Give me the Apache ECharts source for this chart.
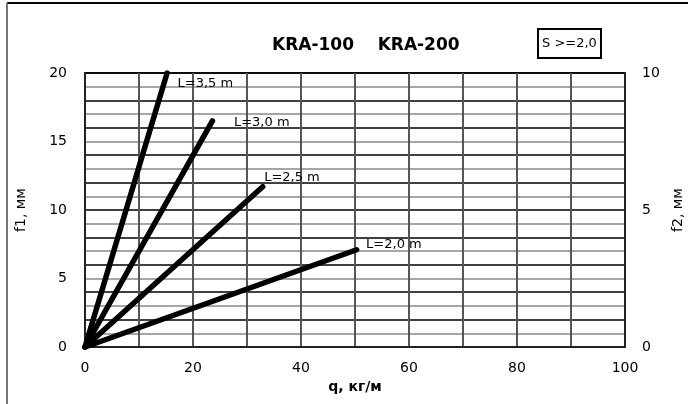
<!DOCTYPE html>
<html>
<head>
<meta charset="utf-8">
<script src="https://cdn.jsdelivr.net/npm/echarts@6/dist/echarts.min.js"></script>
<style>
html,body{margin:0;padding:0;background:#fff;}
#chart{width:688px;height:404px;}
</style>
</head>
<body>
<div id="chart"></div>
<script>
// Data
const seriesNames = ['L=3,5 m', 'L=3,0 m', 'L=2,5 m', 'L=2,0 m'];
const qStart = [0, 0, 0, 0];
const f1Start = [0, 0, 0, 0];
const qEnd = [15.2, 23.6, 32.9, 50.3];
const f1End = [20, 16.5, 11.7, 7.1];
const xTickLabels = [0, 20, 40, 60, 80, 100];
const yLeftTickLabels = [0, 5, 10, 15, 20];
const yRightTickLabels = [0, 5, 10];
const titleText = 'KRA-100    KRA-200';
const boxText = 'S >=2,0';

const FONT = 'DejaVu Sans';
const labelOffsets = [[5, 11], [16, 2], [-4, -9], [4, -5]];

const chart = echarts.init(document.getElementById('chart'), null, {renderer: 'canvas'});

const series = seriesNames.map((name, i) => ({
  name: name,
  type: 'line',
  yAxisIndex: 0,
  symbol: 'circle',
  symbolSize: 1,
  showSymbol: true,
  itemStyle: {color: '#000'},
  lineStyle: {color: '#000', width: 5.5, cap: 'round'},
  silent: true,
  data: [
    {value: [qStart[i], f1Start[i]]},
    {value: [qEnd[i], f1End[i]],
     label: {show: true, position: 'right', formatter: name, offset: labelOffsets[i],
             color: '#000', fontFamily: FONT, fontSize: 13}}
  ]
}));

const option = {
  animation: false,
  backgroundColor: '#fff',
  title: [
    {text: titleText, left: 267, top: 32,
     textStyle: {fontFamily: FONT, fontWeight: 'bold', fontSize: 17, color: '#000'}},
    {text: boxText, left: 538, top: 29, padding: [8, 4, 8, 4],
     borderColor: '#000', borderWidth: 2,
     textStyle: {fontFamily: FONT, fontWeight: 'normal', fontSize: 13, color: '#000'}}
  ],
  grid: {left: 85, right: 63, top: 73, bottom: 57, show: true, outerBoundsMode: 'none',
         containLabel: false,
         borderColor: '#333', borderWidth: 2, backgroundColor: 'transparent'},
  xAxis: {
    type: 'value', min: 0, max: 100, interval: 10,
    name: 'q, кг/м', nameLocation: 'middle', nameGap: 33,
    nameTextStyle: {fontFamily: FONT, fontWeight: 'bold', fontSize: 14, color: '#000'},
    axisLine: {show: true, lineStyle: {color: '#222', width: 2}},
    axisTick: {show: false},
    axisLabel: {fontFamily: FONT, fontSize: 14, color: '#000', margin: 14,
      formatter: v => xTickLabels.includes(v) ? String(v) : ''},
    splitLine: {show: true, lineStyle: {color: '#555', width: 2}}
  },
  yAxis: [
    {
      type: 'value', min: 0, max: 20, interval: 1, position: 'left',
      name: 'f1, мм', nameLocation: 'middle', nameGap: 57, nameRotate: 90,
      nameTextStyle: {fontFamily: FONT, fontSize: 14, color: '#000'},
      axisLine: {show: true, lineStyle: {color: '#222', width: 2}},
      axisTick: {show: false},
      axisLabel: {fontFamily: FONT, fontSize: 14, color: '#000', margin: 18,
        formatter: v => yLeftTickLabels.includes(v) ? String(v) : ''},
      splitLine: {show: true, lineStyle: {color: ['#000', '#888'], width: 1.5}}
    },
    {
      type: 'value', min: 0, max: 10, interval: 5, position: 'right',
      name: 'f2, мм', nameLocation: 'middle', nameGap: 46, nameRotate: 90,
      nameTextStyle: {fontFamily: FONT, fontSize: 14, color: '#000'},
      axisLine: {show: true, lineStyle: {color: '#222', width: 2}},
      axisTick: {show: false},
      axisLabel: {fontFamily: FONT, fontSize: 14, color: '#000', margin: 17,
        formatter: v => yRightTickLabels.includes(v) ? String(v) : ''},
      splitLine: {show: false}
    }
  ],
  graphic: [
    {type: 'line', shape: {x1: 7, y1: 3, x2: 688, y2: 3}, style: {stroke: '#000', lineWidth: 2}},
    {type: 'line', shape: {x1: 7, y1: 3, x2: 7, y2: 404}, style: {stroke: '#777', lineWidth: 2}}
  ],
  series: series
};
chart.setOption(option);
</script>
</body>
</html>
